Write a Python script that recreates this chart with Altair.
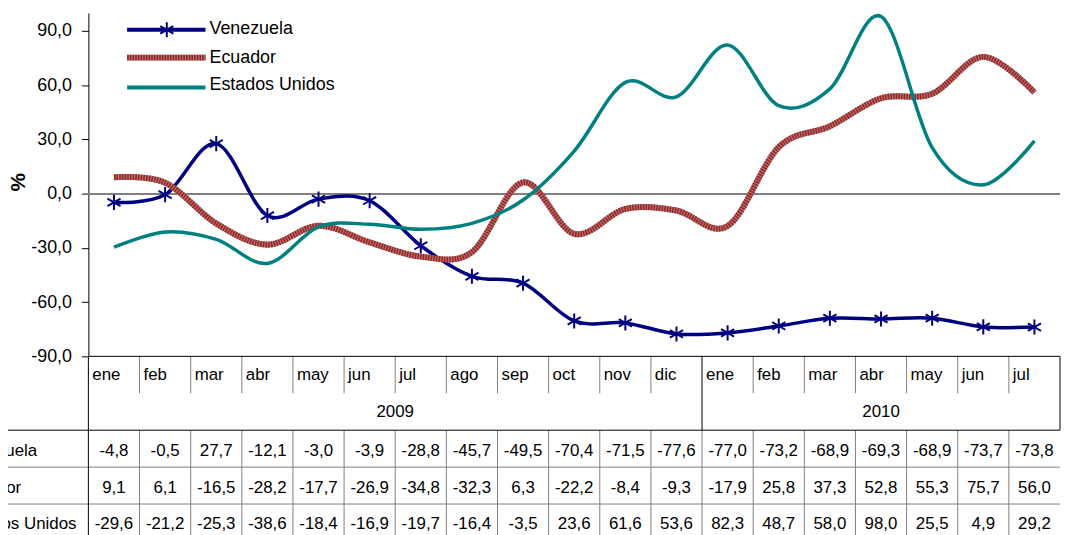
import altair as alt
import pandas as pd

months = ["ene", "feb", "mar", "abr", "may", "jun", "jul", "ago", "sep", "oct", "nov", "dic",
          "ene", "feb", "mar", "abr", "may", "jun", "jul"]
years = ["2009"] * 12 + ["2010"] * 7
series_names = ["Venezuela", "Ecuador", "Estados Unidos"]
venezuela = [-4.8, -0.5, 27.7, -12.1, -3.0, -3.9, -28.8, -45.7, -49.5, -70.4, -71.5, -77.6,
             -77.0, -73.2, -68.9, -69.3, -68.9, -73.7, -73.8]
ecuador = [9.1, 6.1, -16.5, -28.2, -17.7, -26.9, -34.8, -32.3, 6.3, -22.2, -8.4, -9.3,
           -17.9, 25.8, 37.3, 52.8, 55.3, 75.7, 56.0]
eeuu = [-29.6, -21.2, -25.3, -38.6, -18.4, -16.9, -19.7, -16.4, -3.5, 23.6, 61.6, 53.6,
        82.3, 48.7, 58.0, 98.0, 25.5, 4.9, 29.2]
y_ticks = [-90, -60, -30, 0, 30, 60, 90]

FONT = "Liberation Sans"
NAVY = "#000080"
TEAL = "#008080"
EC_DARK = "#8E2A2A"
EC_LIGHT = "#C47070"

W = 979
PH = 346
RH = 37.2
n = len(months)

# ---- data tables
rows = []
for r, (s, vals) in enumerate(zip(series_names, [venezuela, ecuador, eeuu])):
    for i, v in enumerate(vals):
        rows.append({"idx": i, "series": s, "value": v,
                     "label": f"{v:.1f}".replace(".", ","), "row": r + 2.5})
df = pd.DataFrame(rows)

month_df = pd.DataFrame({"idx": list(range(n)), "month": months, "year": years})
month_df["left"] = month_df["idx"] - 0.5

row_df = pd.DataFrame({"name": series_names, "row": [2.5, 3.5, 4.5]})

dark_lines = pd.DataFrame([
    {"x": -0.5, "x2": -0.5, "y": 0, "y2": 5},
    {"x": 11.5, "x2": 11.5, "y": 0, "y2": 2},
    {"x": n - 0.5, "x2": n - 0.5, "y": 0, "y2": 2},
    {"x": -0.5, "x2": n - 0.5, "y": 0, "y2": 0},
    {"x": -3.5, "x2": n - 0.5, "y": 2, "y2": 2},
])
gray = []
for i in range(1, n):
    b = i - 0.5
    if b != 11.5:
        gray.append({"x": b, "x2": b, "y": 0, "y2": 1})
    gray.append({"x": b, "x2": b, "y": 2, "y2": 5})
for yy in [3, 4]:
    gray.append({"x": -3.5, "x2": n - 0.5, "y": yy, "y2": yy})
gray_lines = pd.DataFrame(gray)

legend_df = pd.DataFrame({"name": series_names})

# ---- scales
xs = alt.Scale(domain=[-0.5, n - 0.5], nice=False, zero=False)
ys = alt.Scale(domain=[-90, 100], range=[PH, 0], nice=False, zero=False)
yt = alt.Scale(domain=[0, 5], range=[PH, PH + 5 * RH], nice=False, zero=False)

X = alt.X("idx:Q", scale=xs, axis=None)

# ---- plot
yaxis = alt.Axis(values=y_ticks, labelExpr="toString(datum.value) + ',0'", grid=False,
                 domainColor="black", tickColor="black", tickSize=7, labelFontSize=18,
                 labelFont=FONT, labelColor="black", labelPadding=10,
                 title="%", titleFont=FONT, titleFontSize=21, titleFontWeight="bold",
                 titleAngle=270, titleX=-70, titleY=170, titleAlign="center",
                 titleBaseline="middle", titleColor="black")

base = alt.Chart(df)
zero = alt.Chart(df).mark_rule(color="#808080", strokeWidth=1).encode(
    y=alt.Y(datum=0, scale=ys, axis=yaxis))

ven_line = base.transform_filter(alt.datum.series == "Venezuela").mark_line(
    interpolate="cardinal", color=NAVY, strokeWidth=3.5, strokeJoin="round").encode(
    x=X, y=alt.Y("value:Q", scale=ys, axis=yaxis))
ec_base = base.transform_filter(alt.datum.series == "Ecuador").mark_line(
    interpolate="cardinal", color=EC_LIGHT, strokeWidth=6).encode(
    x=X, y=alt.Y("value:Q", scale=ys))
ec_dash = base.transform_filter(alt.datum.series == "Ecuador").mark_line(
    interpolate="cardinal", color=EC_DARK, strokeWidth=6, strokeDash=[1.6, 1.1]).encode(
    x=X, y=alt.Y("value:Q", scale=ys))
us_line = base.transform_filter(alt.datum.series == "Estados Unidos").mark_line(
    interpolate="cardinal", color=TEAL, strokeWidth=3.5, strokeJoin="round").encode(
    x=X, y=alt.Y("value:Q", scale=ys))

STAR = "M0,-1L0,1M-0.87,-0.5L0.87,0.5M-0.87,0.5L0.87,-0.5"
ven_pts = base.transform_filter(alt.datum.series == "Venezuela").mark_point(
    shape=STAR, filled=False, stroke=NAVY, strokeWidth=2, size=230, opacity=1).encode(
    x=X, y=alt.Y("value:Q", scale=ys))

# ---- legend (inside plot, top left)
leg = alt.Chart(legend_df)
lg_ven = leg.transform_filter(alt.datum.name == "Venezuela").mark_rule(
    color=NAVY, strokeWidth=4).encode(x=alt.value(39), x2=alt.value(118), y=alt.value(17))
lg_ven_pt = leg.transform_filter(alt.datum.name == "Venezuela").mark_point(
    shape=STAR, filled=False, stroke=NAVY, strokeWidth=2, size=230, opacity=1).encode(
    x=alt.value(79), y=alt.value(17))
lg_ec1 = leg.transform_filter(alt.datum.name == "Ecuador").mark_rule(
    color=EC_LIGHT, strokeWidth=6).encode(x=alt.value(39), x2=alt.value(118), y=alt.value(45))
lg_ec2 = leg.transform_filter(alt.datum.name == "Ecuador").mark_rule(
    color=EC_DARK, strokeWidth=6, strokeDash=[1.6, 1.1]).encode(
    x=alt.value(39), x2=alt.value(118), y=alt.value(45))
lg_us = leg.transform_filter(alt.datum.name == "Estados Unidos").mark_rule(
    color=TEAL, strokeWidth=4).encode(x=alt.value(39), x2=alt.value(118), y=alt.value(75))

lg_texts = []
for nm, yy in zip(series_names, [16, 45, 73]):
    lg_texts.append(
        leg.transform_filter(alt.datum.name == nm).mark_text(
            align="left", baseline="middle", font=FONT, fontSize=18, color="black").encode(
            x=alt.value(122), y=alt.value(yy), text="name:N"))

plot = alt.layer(zero, ven_line, ec_base, ec_dash, us_line, ven_pts,
                 lg_ven, lg_ven_pt, lg_ec1, lg_ec2, lg_us, *lg_texts)

# ---- data table
grid_dark = alt.Chart(dark_lines).mark_rule(color="#000000", strokeWidth=1).encode(
    x=alt.X("x:Q", scale=xs, axis=None), x2="x2:Q",
    y=alt.Y("y:Q", scale=yt, axis=None), y2="y2:Q")
grid_gray = alt.Chart(gray_lines).mark_rule(color="#808080", strokeWidth=1).encode(
    x=alt.X("x:Q", scale=xs, axis=None), x2="x2:Q",
    y=alt.Y("y:Q", scale=yt, axis=None), y2="y2:Q")

month_txt = alt.Chart(month_df).mark_text(
    align="left", baseline="middle", dx=4, font=FONT, fontSize=17, color="black").encode(
    x=alt.X("left:Q", scale=xs, axis=None),
    y=alt.Y(datum=0.5, scale=yt, axis=None), text="month:N")
year_txt = alt.Chart(month_df).transform_aggregate(
    c="mean(idx)", groupby=["year"]).mark_text(
    align="center", baseline="middle", font=FONT, fontSize=17, color="black").encode(
    x=alt.X("c:Q", scale=xs, axis=None),
    y=alt.Y(datum=1.5, scale=yt, axis=None), text="year:N")
val_txt = alt.Chart(df).mark_text(
    align="center", baseline="middle", dy=2, font=FONT, fontSize=17, color="black").encode(
    x=alt.X("idx:Q", scale=xs, axis=None),
    y=alt.Y("row:Q", scale=yt, axis=None), text="label:N")
row_txt = alt.Chart(row_df).mark_text(
    align="left", baseline="middle", dy=2, font=FONT, fontSize=17, color="black").encode(
    x=alt.value(-131),
    y=alt.Y("row:Q", scale=yt, axis=None), text="name:N")

table = alt.layer(grid_gray, grid_dark, month_txt, year_txt, val_txt, row_txt)

chart = alt.layer(plot, table).resolve_scale(y="independent").properties(
    width=W, height=524,
    autosize=alt.AutoSizeParams(type="none"),
    padding={"left": 81, "top": 3, "right": 1, "bottom": 0},
    background="white",
).configure_view(stroke=None)

chart.save("out.html", embed_options={"renderer": "svg", "actions": False})
